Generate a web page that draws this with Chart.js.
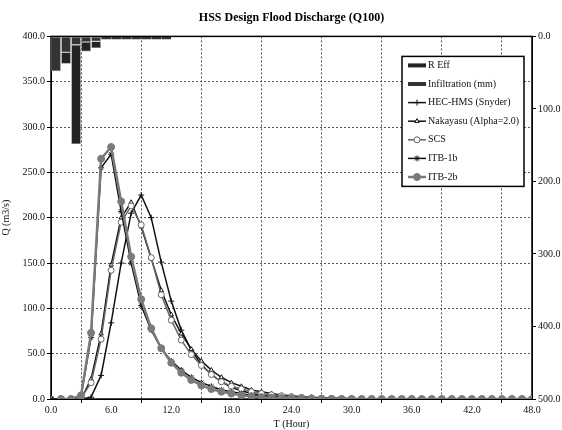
<!DOCTYPE html>
<html>
<head>
<meta charset="utf-8">
<script src="https://cdn.jsdelivr.net/npm/chart.js@4.4.0/dist/chart.umd.min.js"></script>
<style>
  body { margin: 0; background: #fff; }
  #wrap { width: 562px; height: 430px; }
</style>
</head>
<body>
<div id="wrap"><canvas id="chart"></canvas></div>
<script>
// --- DATA ---
const hours = [0,1,2,3,4,5,6,7,8,9,10,11,12,13,14,15,16,17,18,19,20,21,22,23,24,
  25,26,27,28,29,30,31,32,33,34,35,36,37,38,39,40,41,42,43,44,45,46,47,48];

const hecHms = [0,0,0,0,2,26,84,150,205,225,200,151,108,76,54,38,27,19,13,9,6,4,3,2,1.4,
  1,0.6,0.4,0.2,0,0,0,0,0,0,0,0,0,0,0,0,0,0,0,0,0,0,0,0];
const nakayasu = [0,0,0,0,22,72,148,200,217,190,155,120,93,72,55,42,32,24,18,14,10,8,6,4.5,3.5,
  2.6,2,1.5,1,0.7,0.5,0.3,0.2,0.1,0,0,0,0,0,0,0,0,0,0,0,0,0,0,0];
const scs = [0,0,0,1,18,66,142,195,213,192,156,115,87,65,49,37,27,19,14,11,8,6,4.6,3.5,2.5,
  1.8,1.2,0.8,0.5,0.3,0.2,0.1,0,0,0,0,0,0,0,0,0,0,0,0,0,0,0,0,0];
const itb1b = [0,0,0,3,68,255,270,207,150,103,76,56,42,32,24,18,14,10,8,6,4,3,2,1.5,1,
  0.7,0.5,0.3,0.2,0.1,0,0,0,0,0,0,0,0,0,0,0,0,0,0,0,0,0,0,0];
const itb2b = [null,0,0,4,73,265,278,218,157,110,78,56,40,29,21,15,11,8,6,4,3,2,1.5,1,0.8,
  0.5,0.3,0.2,0.1,0,0,0,0,0,0,0,0,0,0,0,0,0,0,0,0,0,0,0,0];

// rainfall per hour (mm), plotted on the reversed right axis
const rainHours = [0.5,1.5,2.5,3.5,4.5,5.5,6.5,7.5,8.5,9.5,10.5,11.5];
const rEff = [null,15.7,137,13,9.2,null,null,null,null,null,null,null];
const infiltration = [48,22,11.5,7.8,6.9,4,4,4,4,4,4,4];

const xTicks = [0,6,12,18,24,30,36,42,48];
const qTicks = [0,50,100,150,200,250,300,350,400];
const rainTicks = [0,100,200,300,400,500];

// --- HELPERS ---
const SERIF = "'Liberation Serif', 'Times New Roman', serif";
Chart.defaults.font.family = SERIF;
Chart.defaults.color = '#111';

const toPoints = (xs, ys) => xs.map((x, i) => ({ x: x, y: ys[i] }));
const fixTicks = values => scale => { scale.ticks = values.map(v => ({ value: v })); };

function lineSet(label, data, color, width, pointStyle, pointFill, radius, order) {
    return {
        type: 'line', label: label, data: toPoints(hours, data),
        borderColor: color, borderWidth: width, tension: 0,
        pointStyle: pointStyle, pointRadius: radius,
        pointBackgroundColor: pointFill, pointBorderColor: color, pointBorderWidth: 1,
        yAxisID: 'y', order: order
    };
}

function barSet(label, data, color, order) {
    return {
        type: 'bar', label: label, data: toPoints(rainHours, data),
        backgroundColor: color, borderColor: '#8a8a8a', borderSkipped: false,
        // thin bars get no outline, otherwise the outline swallows the fill
        borderWidth: c => (c.raw && c.raw.y < 5 ? 0 : 0.7),
        barPercentage: 0.96, categoryPercentage: 1,
        yAxisID: 'y2', stack: 'rain', order: order
    };
}

const datasets = [
    barSet('R Eff', rEff, '#232323', 11),
    barSet('Infiltration (mm)', infiltration, '#333333', 10),
    lineSet('HEC-HMS (Snyder)', hecHms, '#111', 1.5, 'cross', '#111', 3, 4),
    lineSet('Nakayasu (Alpha=2.0)', nakayasu, '#111', 1.5, 'triangle', '#fff', 2.5, 3),
    lineSet('SCS', scs, '#666', 1.5, 'circle', '#fff', 3, 2),
    lineSet('ITB-1b', itb1b, '#111', 1.5, 'star', '#111', 3, 1),
    lineSet('ITB-2b', itb2b, '#7a7a7a', 2.5, 'circle', '#7a7a7a', 3.5, 0)
];

// --- PLUGINS ---
const frame = {
    id: 'frame',
    beforeDatasetsDraw(chart) {
        const { ctx, chartArea: a } = chart;
        ctx.save();
        ctx.strokeStyle = '#000';
        ctx.lineWidth = 1.5;
        ctx.strokeRect(a.left, a.top, a.right - a.left, a.bottom - a.top);
        ctx.restore();
    }
};

const legendBox = {
    id: 'legendBox',
    afterDraw(chart) {
        const { ctx, chartArea: a } = chart;
        const x0 = a.right - 130, y0 = a.top + 20, w = 122, h = 130;
        ctx.save();
        ctx.fillStyle = '#fff';
        ctx.fillRect(x0, y0, w, h);
        ctx.strokeStyle = '#000';
        ctx.lineWidth = 1.5;
        ctx.strokeRect(x0, y0, w, h);
        ctx.font = '10px ' + SERIF;
        ctx.textBaseline = 'middle';
        chart.data.datasets.forEach((ds, i) => {
            const y = y0 + 9 + i * 18.6;
            const sx = x0 + 6;
            if (ds.type === 'bar') {
                ctx.fillStyle = ds.backgroundColor;
                ctx.fillRect(sx, y - 2, 18, 4);
            } else {
                ctx.strokeStyle = ds.borderColor;
                ctx.lineWidth = ds.borderWidth;
                ctx.beginPath();
                ctx.moveTo(sx, y);
                ctx.lineTo(sx + 18, y);
                ctx.stroke();
                ctx.fillStyle = ds.pointBackgroundColor;
                ctx.strokeStyle = ds.pointBorderColor;
                ctx.lineWidth = 1;
                Chart.helpers.drawPoint(ctx, {
                    pointStyle: ds.pointStyle, radius: ds.pointRadius, rotation: 0, borderWidth: 1
                }, sx + 9, y);
            }
            ctx.fillStyle = '#111';
            ctx.fillText(ds.label, sx + 20, y);
        });
        ctx.restore();
    }
};

// --- CHART ---
new Chart(document.getElementById('chart'), {
    type: 'bar',
    data: { datasets: datasets },
    plugins: [frame, legendBox],
    options: {
        responsive: true,
        maintainAspectRatio: false,
        animation: false,
        layout: { padding: 0 },
        plugins: {
            legend: { display: false },
            tooltip: { enabled: false },
            title: {
                display: true, fullSize: false,
                text: 'HSS Design Flood Discharge (Q100)',
                font: { size: 12, weight: 'bold', family: SERIF },
                color: '#000',
                padding: { top: 11, bottom: 11 }
            }
        },
        scales: {
            x: {
                type: 'linear', min: 0, max: 48, offset: false,
                afterBuildTicks: fixTicks(xTicks),
                afterFit: s => { s.height = 31; },
                ticks: { callback: v => v.toFixed(1), font: { size: 10 }, padding: 1, maxRotation: 0 },
                grid: { color: '#555', lineWidth: 1, tickLength: 4, tickColor: '#000' },
                border: { dash: [2, 2], color: '#000' },
                title: { display: true, text: 'T (Hour)', font: { size: 10 }, padding: 0 }
            },
            y: {
                type: 'linear', position: 'left', min: 0, max: 400,
                afterBuildTicks: fixTicks(qTicks),
                afterFit: s => { s.width = 51; },
                ticks: { callback: v => v.toFixed(1), font: { size: 10 }, padding: 2 },
                grid: { color: '#555', lineWidth: 1, tickLength: 4, tickColor: '#000' },
                border: { dash: [2, 2], color: '#000' },
                title: { display: true, text: 'Q (m3/s)', font: { size: 10 }, padding: 0 }
            },
            y2: {
                type: 'linear', position: 'right', min: 0, max: 500, reverse: true, stacked: true,
                afterBuildTicks: fixTicks(rainTicks),
                afterFit: s => { s.width = 30; },
                ticks: { callback: v => v.toFixed(1), font: { size: 10 }, padding: 2 },
                grid: { drawOnChartArea: false, tickLength: 4, tickColor: '#000' },
                border: { color: '#000' }
            }
        }
    }
});
</script>
</body>
</html>
